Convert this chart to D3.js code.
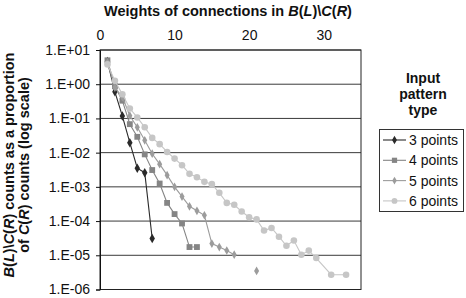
<!DOCTYPE html>
<html><head><meta charset="utf-8">
<script src="https://cdn.jsdelivr.net/npm/d3@7"></script>
<style>
body{margin:0;background:#fff;}
svg{display:block;font-family:"Liberation Sans",Arial,sans-serif;}
</style></head>
<body><svg id="c" width="466" height="298"></svg>
<script>
const xs = d3.range(1, 34);
const seriesNames = ["3 points", "4 points", "5 points", "6 points"];
const s3 = [4.6, 0.6, 0.117, 0.0195, 0.0035, 0.0026, 3.1e-5];
const s4 = [5.0, 0.87, 0.33, 0.068, 0.029, 0.0089, 0.0031, 0.00125, 3.4e-4, 1.6e-4, 8.5e-5, 1.74e-5, 1.74e-5];
const s5 = [4.3, 0.8, 0.42, 0.12, 0.055, 0.023, 0.0093, 0.0046, 0.0022, 0.001, 5.2e-4, 2.7e-4, 2.0e-4, 1.48e-4, 2.2e-5, 1.74e-5, 1.38e-5, 1.04e-5, null, null, 3.5e-6];
const s6 = [3.8, 1.26, 0.51, 0.195, 0.107, 0.055, 0.027, 0.0177, 0.0105, 0.0067, 0.0043, 0.0024, 0.0019, 0.0014, 0.0012, 6.7e-4, 3.4e-4, 3.0e-4, 1.9e-4, 1.3e-4, 1.12e-4, 5.3e-5, 6.3e-5, 3.5e-5, 1.9e-5, 2.7e-5, 1.04e-5, 1.37e-5, 8.3e-6, null, 2.7e-6, null, 2.7e-6];
const xTicks = [0, 10, 20, 30];
const yTicks = [1e1, 1e0, 1e-1, 1e-2, 1e-3, 1e-4, 1e-5, 1e-6];
const yTickLabels = ["1.E+01", "1.E+00", "1.E-01", "1.E-02", "1.E-03", "1.E-04", "1.E-05", "1.E-06"];

const seriesValues = [s3, s4, s5, s6];
const styles = [
  {color: "#2a2a2a", shape: d3.symbolDiamond, size: 26, connectGaps: false},
  {color: "#858585", shape: d3.symbolSquare, size: 34, connectGaps: false},
  {color: "#9c9c9c", shape: d3.symbolDiamond, size: 22, connectGaps: false},
  {color: "#c6c6c6", shape: d3.symbolCircle, size: 34, connectGaps: true}
];

const svg = d3.select("#c");
const L = 100, R = 361, T = 50, B = 289.5;
const x = d3.scaleLinear().domain([0, 35]).range([L, R]);
const y = d3.scaleLog().domain([1e-6, 1e1]).range([B, T]);

// gridlines
svg.append("g").selectAll("line").data(yTicks).join("line")
  .attr("x1", L).attr("x2", R).attr("y1", d => y(d)).attr("y2", d => y(d))
  .attr("stroke", "#3a3a3a").attr("stroke-width", 1);
// plot border
svg.append("rect").attr("x", L).attr("y", T).attr("width", R - L).attr("height", B - T)
  .attr("fill", "none").attr("stroke", "#222").attr("stroke-width", 1);

// y axis
const yAxis = d3.axisLeft(y).tickValues(yTicks).tickSize(4).tickPadding(6)
  .tickFormat((d, i) => yTickLabels[i]);
const gy = svg.append("g").attr("transform", `translate(${L},0)`).call(yAxis);
gy.select(".domain").attr("stroke", "#111");
gy.selectAll(".tick line").attr("stroke", "#111");
gy.selectAll("text").attr("font-size", 14).attr("fill", "#111").attr("font-family", "Liberation Sans, Arial, sans-serif");

// x axis (top)
const xAxis = d3.axisTop(x).tickValues(xTicks).tickSize(0).tickPadding(10);
const gx = svg.append("g").attr("transform", `translate(0,${T})`).call(xAxis);
gx.select(".domain").remove();
gx.selectAll("text").attr("font-size", 14).attr("fill", "#111").attr("font-family", "Liberation Sans, Arial, sans-serif");

// series
seriesValues.forEach((vals, si) => {
  const st = styles[si];
  let pts = vals.map((v, i) => ({x: xs[i], v}));
  if (st.connectGaps) pts = pts.filter(p => p.v != null);
  const line = d3.line().defined(p => p.v != null).x(p => x(p.x)).y(p => y(p.v));
  svg.append("path").attr("d", line(pts)).attr("fill", "none")
    .attr("stroke", st.color).attr("stroke-width", 1.1);
  svg.append("g").selectAll("path").data(pts.filter(p => p.v != null)).join("path")
    .attr("transform", p => `translate(${x(p.x)},${y(p.v)})`)
    .attr("d", d3.symbol().type(st.shape).size(st.size)())
    .attr("fill", st.color);
});

// title
const title = svg.append("text").attr("x", 228).attr("y", 16).attr("text-anchor", "middle")
  .attr("font-size", 14.5).attr("font-weight", "bold").attr("fill", "#111");
function addRich(el, parts) {
  parts.forEach(p => el.append("tspan").text(p[0]).attr("font-style", p[1] ? "italic" : "normal"));
}
addRich(title, [["Weights of connections in ", 0], ["B", 1], ["(", 0], ["L", 1], [")\\", 0], ["C", 1], ["(", 0], ["R", 1], [")", 0]]);

// y axis title
const yt = svg.append("g").attr("transform", "translate(0,165) rotate(-90)");
const yl1 = yt.append("text").attr("x", 0).attr("y", 14).attr("text-anchor", "middle")
  .attr("font-size", 14.5).attr("font-weight", "bold").attr("fill", "#111");
addRich(yl1, [["B", 1], ["(", 0], ["L", 1], [")\\", 0], ["C", 1], ["(", 0], ["R", 1], [") counts as a proportion", 0]]);
const yl2 = yt.append("text").attr("x", 0).attr("y", 29).attr("text-anchor", "middle")
  .attr("font-size", 14.5).attr("font-weight", "bold").attr("fill", "#111");
addRich(yl2, [["of ", 0], ["C", 1], ["(", 0], ["R", 1], [") counts (log scale)", 0]]);

// legend
const legTitle = ["Input", "pattern", "type"];
svg.append("g").selectAll("text").data(legTitle).join("text")
  .attr("x", 423).attr("y", (d, i) => 83 + i * 16).attr("text-anchor", "middle")
  .attr("font-size", 14).attr("font-weight", "bold").attr("fill", "#111").text(d => d);
svg.append("rect").attr("x", 379.5).attr("y", 129.5).attr("width", 84).attr("height", 82)
  .attr("fill", "#fff").attr("stroke", "#333").attr("stroke-width", 1);
const lg = svg.append("g").selectAll("g").data(seriesNames).join("g")
  .attr("transform", (d, i) => `translate(0,${140 + i * 20.3})`);
lg.append("line").attr("x1", 383).attr("x2", 406).attr("y1", 0).attr("y2", 0)
  .attr("stroke", (d, i) => styles[i].color).attr("stroke-width", 1.1);
lg.append("path").attr("transform", "translate(394.5,0)")
  .attr("d", (d, i) => d3.symbol().type(styles[i].shape).size(styles[i].size * 0.8)())
  .attr("fill", (d, i) => styles[i].color);
lg.append("text").attr("x", 409).attr("y", 5).attr("font-size", 14).attr("fill", "#111").text(d => d);
</script></body></html>
